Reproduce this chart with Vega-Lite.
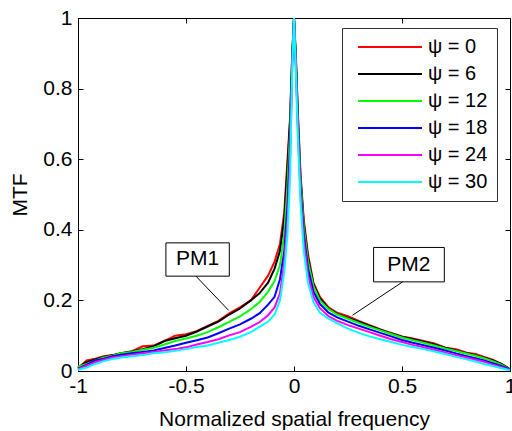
{
  "$schema": "https://vega.github.io/schema/vega-lite/v6.json",
  "width": 432,
  "height": 353,
  "autosize": {"type": "none"},
  "padding": {"left": 78, "top": 18, "right": 2, "bottom": 60},
  "background": "white",
  "config": {
    "view": {"stroke": "black", "strokeWidth": 1},
    "font": "Liberation Sans",
    "axis": {
      "domainColor": "black", "tickColor": "black", "labelColor": "black", "titleColor": "black",
      "grid": false, "labelFontSize": 21, "titleFontSize": 21, "titleFontWeight": "normal",
      "labelFont": "Liberation Sans", "titleFont": "Liberation Sans", "tickSize": -5, "domainWidth": 1, "tickWidth": 1
    }
  },
  "datasets": {
    "curves": [
      {"psi":"ψ = 0","f":-1,"mtf":0.008},{"psi":"ψ = 0","f":-0.96,"mtf":0.03},{"psi":"ψ = 0","f":-0.92,"mtf":0.035},{"psi":"ψ = 0","f":-0.88,"mtf":0.042},{"psi":"ψ = 0","f":-0.84,"mtf":0.045},{"psi":"ψ = 0","f":-0.8,"mtf":0.05},{"psi":"ψ = 0","f":-0.75,"mtf":0.056},{"psi":"ψ = 0","f":-0.7,"mtf":0.07},{"psi":"ψ = 0","f":-0.65,"mtf":0.072},{"psi":"ψ = 0","f":-0.6,"mtf":0.085},{"psi":"ψ = 0","f":-0.55,"mtf":0.1},{"psi":"ψ = 0","f":-0.5,"mtf":0.104},{"psi":"ψ = 0","f":-0.45,"mtf":0.113},{"psi":"ψ = 0","f":-0.4,"mtf":0.128},{"psi":"ψ = 0","f":-0.35,"mtf":0.142},{"psi":"ψ = 0","f":-0.3,"mtf":0.163},{"psi":"ψ = 0","f":-0.25,"mtf":0.18},{"psi":"ψ = 0","f":-0.2,"mtf":0.2},{"psi":"ψ = 0","f":-0.16,"mtf":0.235},{"psi":"ψ = 0","f":-0.12,"mtf":0.27},{"psi":"ψ = 0","f":-0.09,"mtf":0.31},{"psi":"ψ = 0","f":-0.065,"mtf":0.36},{"psi":"ψ = 0","f":-0.045,"mtf":0.45},{"psi":"ψ = 0","f":-0.03,"mtf":0.6},{"psi":"ψ = 0","f":-0.018,"mtf":0.72},{"psi":"ψ = 0","f":-0.008,"mtf":0.9},{"psi":"ψ = 0","f":0,"mtf":1},
      {"psi":"ψ = 0","f":0.008,"mtf":0.9},{"psi":"ψ = 0","f":0.018,"mtf":0.73},{"psi":"ψ = 0","f":0.03,"mtf":0.56},{"psi":"ψ = 0","f":0.045,"mtf":0.43},{"psi":"ψ = 0","f":0.065,"mtf":0.33},{"psi":"ψ = 0","f":0.09,"mtf":0.25},{"psi":"ψ = 0","f":0.12,"mtf":0.21},{"psi":"ψ = 0","f":0.16,"mtf":0.18},{"psi":"ψ = 0","f":0.2,"mtf":0.165},{"psi":"ψ = 0","f":0.25,"mtf":0.155},{"psi":"ψ = 0","f":0.3,"mtf":0.142},{"psi":"ψ = 0","f":0.35,"mtf":0.13},{"psi":"ψ = 0","f":0.4,"mtf":0.118},{"psi":"ψ = 0","f":0.45,"mtf":0.108},{"psi":"ψ = 0","f":0.5,"mtf":0.098},{"psi":"ψ = 0","f":0.55,"mtf":0.092},{"psi":"ψ = 0","f":0.6,"mtf":0.085},{"psi":"ψ = 0","f":0.65,"mtf":0.078},{"psi":"ψ = 0","f":0.7,"mtf":0.066},{"psi":"ψ = 0","f":0.75,"mtf":0.062},{"psi":"ψ = 0","f":0.8,"mtf":0.052},{"psi":"ψ = 0","f":0.84,"mtf":0.048},{"psi":"ψ = 0","f":0.88,"mtf":0.04},{"psi":"ψ = 0","f":0.92,"mtf":0.032},{"psi":"ψ = 0","f":0.96,"mtf":0.02},{"psi":"ψ = 0","f":1,"mtf":0.005},

      {"psi":"ψ = 6","f":-1,"mtf":0.01},{"psi":"ψ = 6","f":-0.96,"mtf":0.025},{"psi":"ψ = 6","f":-0.92,"mtf":0.033},{"psi":"ψ = 6","f":-0.88,"mtf":0.04},{"psi":"ψ = 6","f":-0.84,"mtf":0.045},{"psi":"ψ = 6","f":-0.8,"mtf":0.05},{"psi":"ψ = 6","f":-0.75,"mtf":0.055},{"psi":"ψ = 6","f":-0.7,"mtf":0.062},{"psi":"ψ = 6","f":-0.65,"mtf":0.07},{"psi":"ψ = 6","f":-0.6,"mtf":0.085},{"psi":"ψ = 6","f":-0.55,"mtf":0.093},{"psi":"ψ = 6","f":-0.5,"mtf":0.1},{"psi":"ψ = 6","f":-0.45,"mtf":0.112},{"psi":"ψ = 6","f":-0.4,"mtf":0.126},{"psi":"ψ = 6","f":-0.35,"mtf":0.14},{"psi":"ψ = 6","f":-0.3,"mtf":0.16},{"psi":"ψ = 6","f":-0.25,"mtf":0.177},{"psi":"ψ = 6","f":-0.2,"mtf":0.2},{"psi":"ψ = 6","f":-0.16,"mtf":0.22},{"psi":"ψ = 6","f":-0.12,"mtf":0.25},{"psi":"ψ = 6","f":-0.09,"mtf":0.29},{"psi":"ψ = 6","f":-0.065,"mtf":0.34},{"psi":"ψ = 6","f":-0.045,"mtf":0.43},{"psi":"ψ = 6","f":-0.03,"mtf":0.58},{"psi":"ψ = 6","f":-0.018,"mtf":0.71},{"psi":"ψ = 6","f":-0.008,"mtf":0.9},{"psi":"ψ = 6","f":0,"mtf":1},
      {"psi":"ψ = 6","f":0.008,"mtf":0.9},{"psi":"ψ = 6","f":0.018,"mtf":0.72},{"psi":"ψ = 6","f":0.03,"mtf":0.55},{"psi":"ψ = 6","f":0.045,"mtf":0.42},{"psi":"ψ = 6","f":0.065,"mtf":0.32},{"psi":"ψ = 6","f":0.09,"mtf":0.245},{"psi":"ψ = 6","f":0.12,"mtf":0.205},{"psi":"ψ = 6","f":0.16,"mtf":0.177},{"psi":"ψ = 6","f":0.2,"mtf":0.162},{"psi":"ψ = 6","f":0.25,"mtf":0.15},{"psi":"ψ = 6","f":0.3,"mtf":0.14},{"psi":"ψ = 6","f":0.35,"mtf":0.128},{"psi":"ψ = 6","f":0.4,"mtf":0.117},{"psi":"ψ = 6","f":0.45,"mtf":0.106},{"psi":"ψ = 6","f":0.5,"mtf":0.097},{"psi":"ψ = 6","f":0.55,"mtf":0.09},{"psi":"ψ = 6","f":0.6,"mtf":0.083},{"psi":"ψ = 6","f":0.65,"mtf":0.075},{"psi":"ψ = 6","f":0.7,"mtf":0.066},{"psi":"ψ = 6","f":0.75,"mtf":0.058},{"psi":"ψ = 6","f":0.8,"mtf":0.05},{"psi":"ψ = 6","f":0.84,"mtf":0.045},{"psi":"ψ = 6","f":0.88,"mtf":0.038},{"psi":"ψ = 6","f":0.92,"mtf":0.03},{"psi":"ψ = 6","f":0.96,"mtf":0.02},{"psi":"ψ = 6","f":1,"mtf":0.005},

      {"psi":"ψ = 12","f":-1,"mtf":0.012},{"psi":"ψ = 12","f":-0.96,"mtf":0.02},{"psi":"ψ = 12","f":-0.92,"mtf":0.03},{"psi":"ψ = 12","f":-0.88,"mtf":0.038},{"psi":"ψ = 12","f":-0.84,"mtf":0.043},{"psi":"ψ = 12","f":-0.8,"mtf":0.05},{"psi":"ψ = 12","f":-0.75,"mtf":0.054},{"psi":"ψ = 12","f":-0.7,"mtf":0.06},{"psi":"ψ = 12","f":-0.65,"mtf":0.066},{"psi":"ψ = 12","f":-0.6,"mtf":0.075},{"psi":"ψ = 12","f":-0.55,"mtf":0.085},{"psi":"ψ = 12","f":-0.5,"mtf":0.092},{"psi":"ψ = 12","f":-0.45,"mtf":0.1},{"psi":"ψ = 12","f":-0.4,"mtf":0.11},{"psi":"ψ = 12","f":-0.35,"mtf":0.124},{"psi":"ψ = 12","f":-0.3,"mtf":0.139},{"psi":"ψ = 12","f":-0.25,"mtf":0.155},{"psi":"ψ = 12","f":-0.2,"mtf":0.175},{"psi":"ψ = 12","f":-0.16,"mtf":0.195},{"psi":"ψ = 12","f":-0.12,"mtf":0.225},{"psi":"ψ = 12","f":-0.09,"mtf":0.255},{"psi":"ψ = 12","f":-0.065,"mtf":0.3},{"psi":"ψ = 12","f":-0.045,"mtf":0.39},{"psi":"ψ = 12","f":-0.03,"mtf":0.53},{"psi":"ψ = 12","f":-0.018,"mtf":0.68},{"psi":"ψ = 12","f":-0.008,"mtf":0.89},{"psi":"ψ = 12","f":0,"mtf":1},
      {"psi":"ψ = 12","f":0.008,"mtf":0.89},{"psi":"ψ = 12","f":0.018,"mtf":0.71},{"psi":"ψ = 12","f":0.03,"mtf":0.54},{"psi":"ψ = 12","f":0.045,"mtf":0.41},{"psi":"ψ = 12","f":0.065,"mtf":0.31},{"psi":"ψ = 12","f":0.09,"mtf":0.24},{"psi":"ψ = 12","f":0.12,"mtf":0.2},{"psi":"ψ = 12","f":0.16,"mtf":0.175},{"psi":"ψ = 12","f":0.2,"mtf":0.16},{"psi":"ψ = 12","f":0.25,"mtf":0.148},{"psi":"ψ = 12","f":0.3,"mtf":0.136},{"psi":"ψ = 12","f":0.35,"mtf":0.125},{"psi":"ψ = 12","f":0.4,"mtf":0.115},{"psi":"ψ = 12","f":0.45,"mtf":0.105},{"psi":"ψ = 12","f":0.5,"mtf":0.095},{"psi":"ψ = 12","f":0.55,"mtf":0.087},{"psi":"ψ = 12","f":0.6,"mtf":0.08},{"psi":"ψ = 12","f":0.65,"mtf":0.072},{"psi":"ψ = 12","f":0.7,"mtf":0.064},{"psi":"ψ = 12","f":0.75,"mtf":0.057},{"psi":"ψ = 12","f":0.8,"mtf":0.049},{"psi":"ψ = 12","f":0.84,"mtf":0.043},{"psi":"ψ = 12","f":0.88,"mtf":0.036},{"psi":"ψ = 12","f":0.92,"mtf":0.028},{"psi":"ψ = 12","f":0.96,"mtf":0.018},{"psi":"ψ = 12","f":1,"mtf":0.004},

      {"psi":"ψ = 18","f":-1,"mtf":0.006},{"psi":"ψ = 18","f":-0.96,"mtf":0.018},{"psi":"ψ = 18","f":-0.92,"mtf":0.03},{"psi":"ψ = 18","f":-0.88,"mtf":0.035},{"psi":"ψ = 18","f":-0.84,"mtf":0.042},{"psi":"ψ = 18","f":-0.8,"mtf":0.046},{"psi":"ψ = 18","f":-0.75,"mtf":0.05},{"psi":"ψ = 18","f":-0.7,"mtf":0.054},{"psi":"ψ = 18","f":-0.65,"mtf":0.058},{"psi":"ψ = 18","f":-0.6,"mtf":0.065},{"psi":"ψ = 18","f":-0.55,"mtf":0.072},{"psi":"ψ = 18","f":-0.5,"mtf":0.08},{"psi":"ψ = 18","f":-0.45,"mtf":0.087},{"psi":"ψ = 18","f":-0.4,"mtf":0.095},{"psi":"ψ = 18","f":-0.35,"mtf":0.107},{"psi":"ψ = 18","f":-0.3,"mtf":0.12},{"psi":"ψ = 18","f":-0.25,"mtf":0.132},{"psi":"ψ = 18","f":-0.2,"mtf":0.148},{"psi":"ψ = 18","f":-0.16,"mtf":0.163},{"psi":"ψ = 18","f":-0.12,"mtf":0.188},{"psi":"ψ = 18","f":-0.09,"mtf":0.21},{"psi":"ψ = 18","f":-0.065,"mtf":0.26},{"psi":"ψ = 18","f":-0.045,"mtf":0.34},{"psi":"ψ = 18","f":-0.03,"mtf":0.47},{"psi":"ψ = 18","f":-0.018,"mtf":0.64},{"psi":"ψ = 18","f":-0.008,"mtf":0.88},{"psi":"ψ = 18","f":0,"mtf":1},
      {"psi":"ψ = 18","f":0.008,"mtf":0.88},{"psi":"ψ = 18","f":0.018,"mtf":0.7},{"psi":"ψ = 18","f":0.03,"mtf":0.52},{"psi":"ψ = 18","f":0.045,"mtf":0.39},{"psi":"ψ = 18","f":0.065,"mtf":0.29},{"psi":"ψ = 18","f":0.09,"mtf":0.225},{"psi":"ψ = 18","f":0.12,"mtf":0.19},{"psi":"ψ = 18","f":0.16,"mtf":0.165},{"psi":"ψ = 18","f":0.2,"mtf":0.152},{"psi":"ψ = 18","f":0.25,"mtf":0.14},{"psi":"ψ = 18","f":0.3,"mtf":0.128},{"psi":"ψ = 18","f":0.35,"mtf":0.118},{"psi":"ψ = 18","f":0.4,"mtf":0.108},{"psi":"ψ = 18","f":0.45,"mtf":0.098},{"psi":"ψ = 18","f":0.5,"mtf":0.088},{"psi":"ψ = 18","f":0.55,"mtf":0.08},{"psi":"ψ = 18","f":0.6,"mtf":0.073},{"psi":"ψ = 18","f":0.65,"mtf":0.066},{"psi":"ψ = 18","f":0.7,"mtf":0.058},{"psi":"ψ = 18","f":0.75,"mtf":0.05},{"psi":"ψ = 18","f":0.8,"mtf":0.042},{"psi":"ψ = 18","f":0.84,"mtf":0.036},{"psi":"ψ = 18","f":0.88,"mtf":0.03},{"psi":"ψ = 18","f":0.92,"mtf":0.022},{"psi":"ψ = 18","f":0.96,"mtf":0.014},{"psi":"ψ = 18","f":1,"mtf":0.004},

      {"psi":"ψ = 24","f":-1,"mtf":0.005},{"psi":"ψ = 24","f":-0.96,"mtf":0.015},{"psi":"ψ = 24","f":-0.92,"mtf":0.025},{"psi":"ψ = 24","f":-0.88,"mtf":0.032},{"psi":"ψ = 24","f":-0.84,"mtf":0.038},{"psi":"ψ = 24","f":-0.8,"mtf":0.042},{"psi":"ψ = 24","f":-0.75,"mtf":0.046},{"psi":"ψ = 24","f":-0.7,"mtf":0.05},{"psi":"ψ = 24","f":-0.65,"mtf":0.054},{"psi":"ψ = 24","f":-0.6,"mtf":0.058},{"psi":"ψ = 24","f":-0.55,"mtf":0.062},{"psi":"ψ = 24","f":-0.5,"mtf":0.067},{"psi":"ψ = 24","f":-0.45,"mtf":0.075},{"psi":"ψ = 24","f":-0.4,"mtf":0.082},{"psi":"ψ = 24","f":-0.35,"mtf":0.09},{"psi":"ψ = 24","f":-0.3,"mtf":0.101},{"psi":"ψ = 24","f":-0.25,"mtf":0.11},{"psi":"ψ = 24","f":-0.2,"mtf":0.125},{"psi":"ψ = 24","f":-0.16,"mtf":0.138},{"psi":"ψ = 24","f":-0.12,"mtf":0.158},{"psi":"ψ = 24","f":-0.09,"mtf":0.18},{"psi":"ψ = 24","f":-0.065,"mtf":0.22},{"psi":"ψ = 24","f":-0.045,"mtf":0.31},{"psi":"ψ = 24","f":-0.03,"mtf":0.43},{"psi":"ψ = 24","f":-0.018,"mtf":0.6},{"psi":"ψ = 24","f":-0.008,"mtf":0.87},{"psi":"ψ = 24","f":0,"mtf":1},
      {"psi":"ψ = 24","f":0.008,"mtf":0.87},{"psi":"ψ = 24","f":0.018,"mtf":0.68},{"psi":"ψ = 24","f":0.03,"mtf":0.5},{"psi":"ψ = 24","f":0.045,"mtf":0.37},{"psi":"ψ = 24","f":0.065,"mtf":0.27},{"psi":"ψ = 24","f":0.09,"mtf":0.21},{"psi":"ψ = 24","f":0.12,"mtf":0.178},{"psi":"ψ = 24","f":0.16,"mtf":0.155},{"psi":"ψ = 24","f":0.2,"mtf":0.142},{"psi":"ψ = 24","f":0.25,"mtf":0.13},{"psi":"ψ = 24","f":0.3,"mtf":0.12},{"psi":"ψ = 24","f":0.35,"mtf":0.11},{"psi":"ψ = 24","f":0.4,"mtf":0.1},{"psi":"ψ = 24","f":0.45,"mtf":0.09},{"psi":"ψ = 24","f":0.5,"mtf":0.082},{"psi":"ψ = 24","f":0.55,"mtf":0.074},{"psi":"ψ = 24","f":0.6,"mtf":0.067},{"psi":"ψ = 24","f":0.65,"mtf":0.06},{"psi":"ψ = 24","f":0.7,"mtf":0.052},{"psi":"ψ = 24","f":0.75,"mtf":0.045},{"psi":"ψ = 24","f":0.8,"mtf":0.038},{"psi":"ψ = 24","f":0.84,"mtf":0.032},{"psi":"ψ = 24","f":0.88,"mtf":0.026},{"psi":"ψ = 24","f":0.92,"mtf":0.018},{"psi":"ψ = 24","f":0.96,"mtf":0.011},{"psi":"ψ = 24","f":1,"mtf":0.003},

      {"psi":"ψ = 30","f":-1,"mtf":0.003},{"psi":"ψ = 30","f":-0.96,"mtf":0.01},{"psi":"ψ = 30","f":-0.92,"mtf":0.02},{"psi":"ψ = 30","f":-0.88,"mtf":0.028},{"psi":"ψ = 30","f":-0.84,"mtf":0.034},{"psi":"ψ = 30","f":-0.8,"mtf":0.038},{"psi":"ψ = 30","f":-0.75,"mtf":0.042},{"psi":"ψ = 30","f":-0.7,"mtf":0.045},{"psi":"ψ = 30","f":-0.65,"mtf":0.05},{"psi":"ψ = 30","f":-0.6,"mtf":0.053},{"psi":"ψ = 30","f":-0.55,"mtf":0.057},{"psi":"ψ = 30","f":-0.5,"mtf":0.062},{"psi":"ψ = 30","f":-0.45,"mtf":0.068},{"psi":"ψ = 30","f":-0.4,"mtf":0.072},{"psi":"ψ = 30","f":-0.35,"mtf":0.08},{"psi":"ψ = 30","f":-0.3,"mtf":0.088},{"psi":"ψ = 30","f":-0.25,"mtf":0.097},{"psi":"ψ = 30","f":-0.2,"mtf":0.11},{"psi":"ψ = 30","f":-0.16,"mtf":0.125},{"psi":"ψ = 30","f":-0.12,"mtf":0.14},{"psi":"ψ = 30","f":-0.09,"mtf":0.16},{"psi":"ψ = 30","f":-0.065,"mtf":0.2},{"psi":"ψ = 30","f":-0.045,"mtf":0.28},{"psi":"ψ = 30","f":-0.03,"mtf":0.39},{"psi":"ψ = 30","f":-0.018,"mtf":0.55},{"psi":"ψ = 30","f":-0.008,"mtf":0.86},{"psi":"ψ = 30","f":0,"mtf":1},
      {"psi":"ψ = 30","f":0.008,"mtf":0.86},{"psi":"ψ = 30","f":0.018,"mtf":0.66},{"psi":"ψ = 30","f":0.03,"mtf":0.48},{"psi":"ψ = 30","f":0.045,"mtf":0.34},{"psi":"ψ = 30","f":0.065,"mtf":0.25},{"psi":"ψ = 30","f":0.09,"mtf":0.195},{"psi":"ψ = 30","f":0.12,"mtf":0.165},{"psi":"ψ = 30","f":0.16,"mtf":0.148},{"psi":"ψ = 30","f":0.2,"mtf":0.135},{"psi":"ψ = 30","f":0.25,"mtf":0.12},{"psi":"ψ = 30","f":0.3,"mtf":0.108},{"psi":"ψ = 30","f":0.35,"mtf":0.098},{"psi":"ψ = 30","f":0.4,"mtf":0.09},{"psi":"ψ = 30","f":0.45,"mtf":0.082},{"psi":"ψ = 30","f":0.5,"mtf":0.074},{"psi":"ψ = 30","f":0.55,"mtf":0.068},{"psi":"ψ = 30","f":0.6,"mtf":0.062},{"psi":"ψ = 30","f":0.65,"mtf":0.055},{"psi":"ψ = 30","f":0.7,"mtf":0.048},{"psi":"ψ = 30","f":0.75,"mtf":0.04},{"psi":"ψ = 30","f":0.8,"mtf":0.033},{"psi":"ψ = 30","f":0.84,"mtf":0.027},{"psi":"ψ = 30","f":0.88,"mtf":0.02},{"psi":"ψ = 30","f":0.92,"mtf":0.014},{"psi":"ψ = 30","f":0.96,"mtf":0.008},{"psi":"ψ = 30","f":1,"mtf":0.002}
    ],
    "boxes": [
      {"label": "PM1", "x1": -0.593, "x2": -0.2995, "y1": 0.2687, "y2": 0.363, "xc": -0.446, "yc": 0.316},
      {"label": "PM2", "x1": 0.3685, "x2": 0.696, "y1": 0.2525, "y2": 0.350, "xc": 0.532, "yc": 0.301}
    ],
    "leaders": [
      {"label": "PM1", "x1": -0.454, "y1": 0.2687, "x2": -0.303, "y2": 0.172},
      {"label": "PM2", "x1": 0.503, "y1": 0.2525, "x2": 0.271, "y2": 0.158}
    ]
  },
  "layer": [
    {
      "data": {"name": "curves"},
      "mark": {"type": "line", "strokeWidth": 2},
      "encoding": {
        "x": {"field": "f", "type": "quantitative",
          "scale": {"domain": [-1, 1], "nice": false, "zero": false},
          "axis": {"orient": "bottom", "values": [-1, -0.5, 0, 0.5, 1], "title": "Normalized spatial frequency", "labelExpr": "datum.value + ''", "labelPadding": 9, "titlePadding": 12, "labelFlush": false}},
        "y": {"field": "mtf", "type": "quantitative",
          "scale": {"domain": [0, 1], "nice": false, "zero": false},
          "axis": {"orient": "left", "values": [0, 0.2, 0.4, 0.6, 0.8, 1], "title": "MTF", "labelExpr": "datum.value + ''", "labelPadding": 11, "titlePadding": 12, "labelFlush": false}},
        "color": {"field": "psi", "type": "nominal",
          "scale": {"domain": ["ψ = 0", "ψ = 6", "ψ = 12", "ψ = 18", "ψ = 24", "ψ = 30"],
                    "range": ["#ff0000", "#000000", "#00ff00", "#0000ff", "#ff00ff", "#00ffff"]},
          "legend": {"orient": "none", "legendX": 264, "legendY": 10, "title": null,
            "fillColor": "white", "strokeColor": "#333333", "padding": 9,
            "symbolType": "M-4,0L4,0", "symbolSize": 256, "symbolStrokeWidth": 2, "symbolOffset": 29,
            "labelFontSize": 20, "labelFont": "Liberation Sans", "labelColor": "black", "labelLimit": 200,
            "labelOffset": 28, "rowPadding": 7}}
      }
    },
    {
      "data": {"name": "boxes"},
      "mark": {"type": "rect", "fill": "white", "stroke": "black", "strokeWidth": 1},
      "encoding": {
        "x": {"field": "x1", "type": "quantitative", "axis": null},
        "x2": {"field": "x2"},
        "y": {"field": "y1", "type": "quantitative", "axis": null},
        "y2": {"field": "y2"}
      }
    },
    {
      "data": {"name": "boxes"},
      "mark": {"type": "text", "fontSize": 21, "font": "Liberation Sans", "color": "black", "align": "center", "baseline": "middle"},
      "encoding": {
        "x": {"field": "xc", "type": "quantitative", "axis": null},
        "y": {"field": "yc", "type": "quantitative", "axis": null},
        "text": {"field": "label"}
      }
    },
    {
      "data": {"name": "leaders"},
      "mark": {"type": "rule", "color": "black", "strokeWidth": 1},
      "encoding": {
        "x": {"field": "x1", "type": "quantitative", "axis": {"orient": "top", "values": [-1, -0.5, 0, 0.5, 1], "labels": false, "title": null, "domain": false}},
        "y": {"field": "y1", "type": "quantitative", "axis": {"orient": "right", "values": [0, 0.2, 0.4, 0.6, 0.8, 1], "labels": false, "title": null, "domain": false}},
        "x2": {"field": "x2"},
        "y2": {"field": "y2"}
      }
    }
  ],
  "resolve": {"axis": {"x": "independent", "y": "independent"}}
}
